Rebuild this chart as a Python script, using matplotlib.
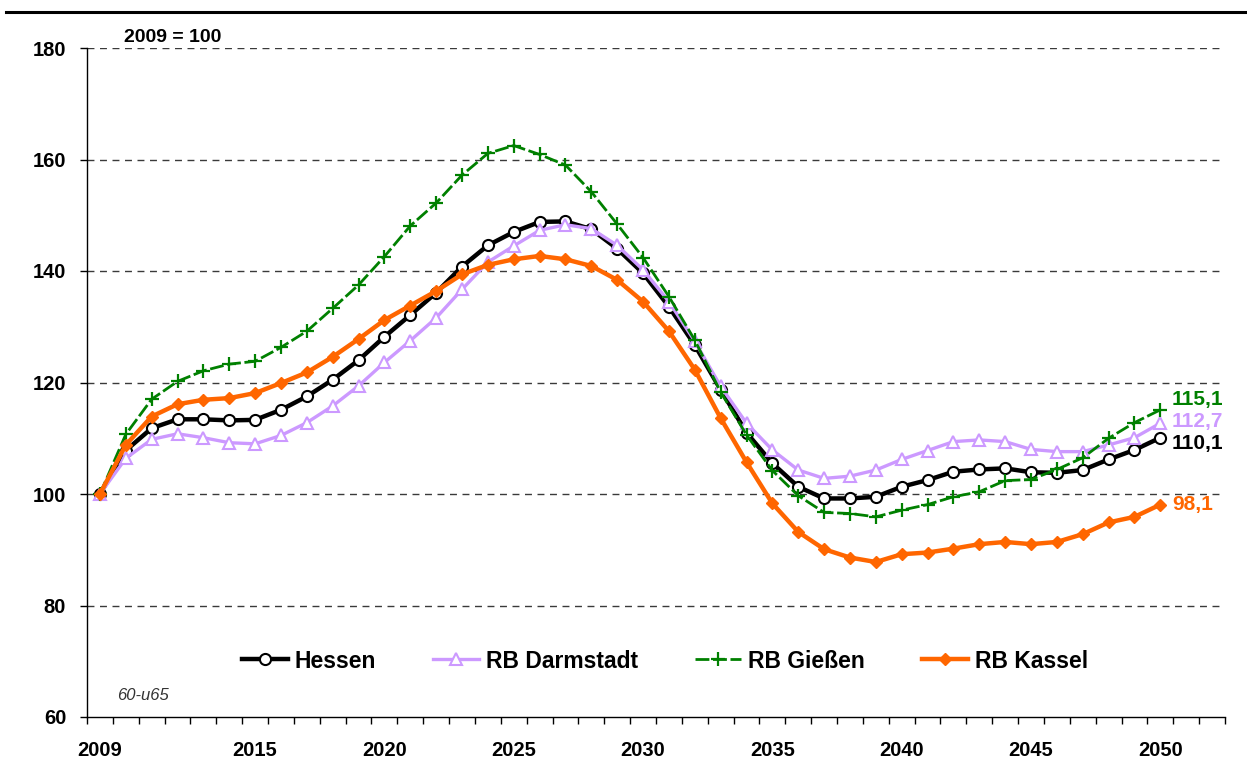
import matplotlib
matplotlib.use("Agg")
import matplotlib.pyplot as plt
from matplotlib.lines import Line2D
import numpy as np

years = list(range(2009, 2051))

hessen = [100.0, 107.8, 111.8, 113.4, 113.4, 113.2, 113.3, 115.1, 117.5, 120.5,
          124.0, 128.2, 132.1, 136.1, 140.8, 144.6, 147.0, 148.8, 148.9, 147.5,
          144.0, 139.6, 133.6, 126.7, 118.7, 111.0, 105.5, 101.3, 99.2, 99.2,
          99.5, 101.3, 102.5, 104.0, 104.4, 104.6, 103.9, 103.8, 104.3, 106.2,
          107.9, 110.1]
darmstadt = [100.0, 106.4, 109.8, 110.8, 110.1, 109.2, 109.0, 110.5, 112.8, 115.8,
             119.4, 123.6, 127.5, 131.6, 136.7, 141.6, 144.5, 147.3, 148.3, 147.6,
             144.6, 140.2, 134.5, 127.4, 119.3, 112.7, 107.9, 104.3, 102.8, 103.2,
             104.3, 106.2, 107.8, 109.4, 109.7, 109.4, 108.0, 107.6, 107.6, 108.8,
             110.1, 112.7]
giessen = [100.0, 110.7, 117.0, 120.2, 122.1, 123.3, 123.8, 126.3, 129.2, 133.3,
           137.5, 142.6, 148.1, 152.2, 157.2, 161.1, 162.5, 160.9, 159.0, 154.2,
           148.4, 142.4, 135.4, 127.6, 118.3, 110.6, 104.2, 99.7, 96.7, 96.5,
           95.9, 97.1, 98.1, 99.5, 100.4, 102.4, 102.6, 104.4, 106.5, 110.0,
           112.8, 115.1]
kassel = [100.0, 108.8, 113.9, 116.1, 116.9, 117.2, 118.1, 119.9, 121.8, 124.6,
          127.8, 131.2, 133.8, 136.4, 139.4, 141.1, 142.1, 142.7, 142.1, 140.9,
          138.4, 134.5, 129.2, 122.3, 113.6, 105.7, 98.3, 93.2, 90.1, 88.6,
          87.8, 89.2, 89.5, 90.2, 91.0, 91.4, 91.0, 91.4, 92.8, 94.9,
          95.9, 98.1]

series_names = ["Hessen", "RB Darmstadt", "RB Gießen", "RB Kassel"]
label_years = [2009, 2015, 2020, 2025, 2030, 2035, 2040, 2045, 2050]
y_ticks = [60, 80, 100, 120, 140, 160, 180]

plt.rcParams['font.family'] = ['Liberation Sans', 'DejaVu Sans']

fig = plt.figure(figsize=(12.47, 7.58), dpi=100)
ax = fig.add_axes([87/1247, 1-717/758, (1225-87)/1247, (717-48)/758])

# grid
for yv in y_ticks[1:]:
    ax.axhline(yv, color='#3a3a3a', lw=1.0, dashes=(5, 4), zorder=1)

purple = '#CC99FF'
green = '#008000'
orange = '#FF6600'

ax.plot(years, hessen, color='black', lw=3.2, marker='o', ms=8,
        mfc='white', mec='black', mew=1.5, label=series_names[0], zorder=3)
ax.plot(years, darmstadt, color=purple, lw=2.4, marker='^', ms=8,
        mfc='white', mec=purple, mew=1.5, label=series_names[1], zorder=4)
ax.plot(years, giessen, color=green, lw=2.0, dashes=(5, 1.3), marker='+', ms=10,
        mec=green, mew=1.6, label=series_names[2], zorder=5)
ax.plot(years, kassel, color=orange, lw=3.2, marker='D', ms=6.5,
        mfc=orange, mec=orange, label=series_names[3], zorder=6)

ax.set_xlim(2008.5, 2052.5)
ax.set_ylim(60, 180)
ax.set_yticks(y_ticks)
ax.set_xticks(label_years)
ax.set_xticks(np.arange(2008.5, 2053.0, 1.0), minor=True)
ax.tick_params(axis='x', which='major', length=0, pad=17, labelsize=14.5)
ax.tick_params(axis='x', which='minor', length=5, width=1, direction='out')
ax.tick_params(axis='y', length=5, width=1, direction='out', pad=10, labelsize=14.5)
for lab in ax.get_xticklabels() + ax.get_yticklabels():
    lab.set_fontweight('bold')

ax.spines['top'].set_visible(False)
ax.spines['right'].set_visible(False)
ax.spines['left'].set_linewidth(1.0)
ax.spines['bottom'].set_linewidth(1.0)

# end labels
end_colors = ['black', purple, green, orange]
end_series = [hessen, darmstadt, giessen, kassel]
end_offsets = [-1.1, 0.3, 1.8, 0.1]
for s, c, off in zip(end_series, end_colors, end_offsets):
    ax.text(years[-1] + 0.45, s[-1] + off, f"{s[-1]:.1f}".replace('.', ','),
            color=c, fontsize=15, fontweight='bold', ha='left', va='center')

fig.text(124/1247, 1-37/758, "2009 = 100", fontsize=14, fontweight='bold',
         ha='left', va='center')
fig.text(117/1247, 1-695/758, "60-u65", fontsize=12, style='italic',
         color='#333333', ha='left', va='center')

leg = ax.legend(loc='center', bbox_to_anchor=((665-87)/1138, (717-661)/669),
                ncol=4, frameon=False, numpoints=1, handlelength=2.0,
                columnspacing=2.5, handletextpad=0.3,
                prop={'weight': 'bold', 'size': 16.5})

fig.add_artist(Line2D([6/1247, 1.0], [1-12/758, 1-12/758], color='black', lw=2.2))

fig.savefig("out.png", dpi=100)
